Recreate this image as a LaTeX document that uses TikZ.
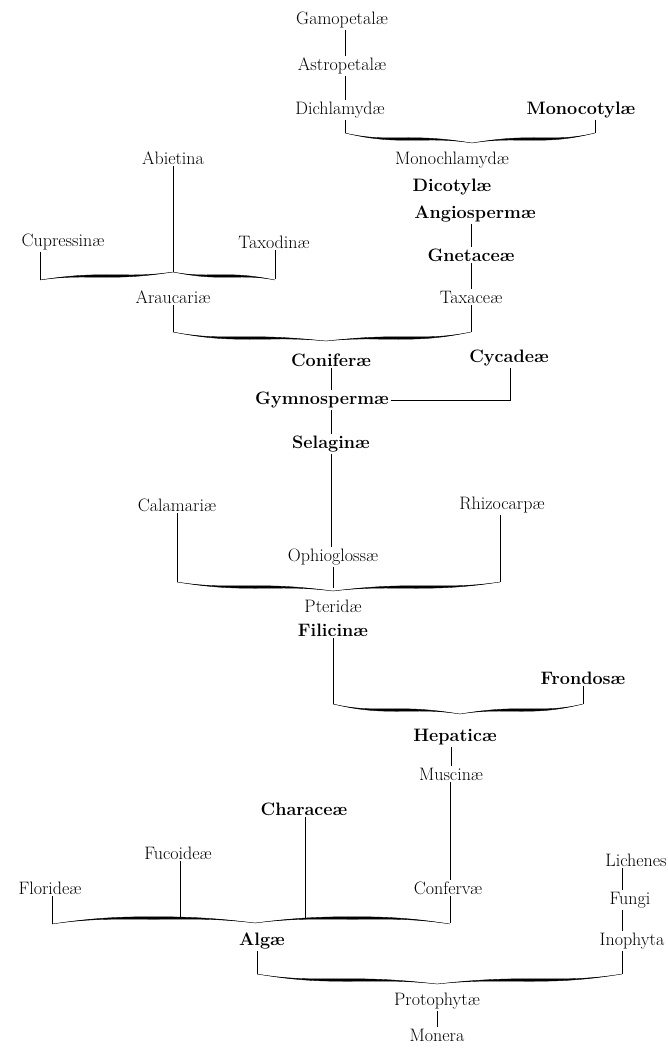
\documentclass[tikz,border=0pt]{standalone}
\usepackage{fontspec}
\setmainfont{Latin Modern Roman}
\newcommand\mybt{1.25}
\newcommand\mybrhalf[5]{%
 \pgfmathsetmacro\myhc{(#1+#3)/2}%
 \pgfmathsetmacro\mypa{#1+0.4*(\myhc-#1)}%
 \pgfmathsetmacro\mypb{\myhc-0.35*(\myhc-#1)}%
 \pgfmathsetmacro\mypc{\myhc+0.35*(#3-\myhc)}%
 \pgfmathsetmacro\mypd{#3-0.4*(#3-\myhc)}%
 \filldraw[line width=0.35pt] (#1,#2) .. controls (\mypa,#5) and (\mypb,#5-\mybt) .. (\myhc,#5-\mybt) .. controls (\mypc,#5-\mybt) and (\mypd,#5) .. (#3,#4) .. controls (\mypd,#5) and (\mypc,#5+\mybt) .. (\myhc,#5+\mybt) .. controls (\mypb,#5+\mybt) and (\mypa,#5) .. (#1,#2) -- cycle;}
\newcommand\mybrace[6]{\mybrhalf{#1}{#4}{#2}{#6}{#5}\mybrhalf{#2}{#6}{#3}{#4}{#5}}
\tikzset{
 nm/.style={inner sep=1.5pt, font=\fontsize{18}{21}\selectfont},
 bd/.style={inner sep=1.5pt, font=\fontsize{18}{21}\selectfont\bfseries},
 ln/.style={line width=0.6pt},
}
\begin{document}
\begin{tikzpicture}[x=1pt,y=-1pt]
\fill[white] (0,0) rectangle (668,1048);
\useasboundingbox (0,0) rectangle (668,1048);
% top
\node[nm] (gam) at (342,20) {Gamopetalæ};
\node[nm] (astro) at (342,66) {Astropetalæ};
\node[nm] (dichl) at (340,110) {Dichlamydæ};
\node[bd] (monoc) at (581,110) {Monocotylæ};
\coordinate (a1) at (345,133); \coordinate (a2) at (595,133);
\draw[ln] (gam.south -| a1) -- (astro.north -| a1);
\draw[ln] (astro.south -| a1) -- (dichl.north -| a1);
\draw[ln] (dichl.south -| a1) -- (a1);
\draw[ln] (monoc.south -| a2) -- (a2);
\mybrace{345}{472}{595}{133}{139}{143}
\node[nm] (monochl) at (452,160) {Monochlamydæ};
\node[bd] (dicot) at (452,187) {Dicotylæ};
\node[bd] (angio) at (475,214) {Angiospermæ};
\node[bd] (gnet) at (471,255) {Gnetaceæ};
\node[nm] (taxac) at (471,297) {Taxaceæ};
\draw[ln] (angio.south -| gnet.north) -- (gnet.north);
\draw[ln] (gnet.south) -- (taxac.north);
\coordinate (c2) at (471,332);
\draw[ln] (taxac.south) -- (c2);
% conifers
\node[nm] (abiet) at (173,158) {Abietina};
\node[nm] (cupr) at (63,242) {Cupressinæ};
\node[nm] (taxod) at (274,242) {Taxodinæ};
\coordinate (b1) at (40,280); \coordinate (bt) at (173,272); \coordinate (b2) at (275,279);
\draw[ln] (abiet.south) -- (bt);
\draw[ln] (cupr.south -| b1) -- (b1);
\draw[ln] (taxod.south -| b2) -- (b2);
\mybrace{40}{173}{275}{280}{276}{272}
\node[nm] (arau) at (173,297) {Araucariæ};
\coordinate (c1) at (173,332);
\draw[ln] (arau.south) -- (c1);
\mybrace{173}{326}{471}{332}{338}{341}
\node[bd] (conif) at (331,360) {Coniferæ};
\node[bd] (cycad) at (509,358) {Cycadeæ};
\node[bd] (gymno) at (322,400) {Gymnospermæ};
\coordinate (gc) at (510,400);
\draw[ln] (conif.south) -- (gymno.north -| conif.south);
\draw[ln] (gymno.east) -| (cycad.south -| gc);
\node[bd] (selag) at (331,444) {Selaginæ};
\draw[ln] (gymno.south -| selag.north) -- (selag.north);
% ferns
\node[nm] (calam) at (177,505) {Calamariæ};
\node[nm] (rhizo) at (502,505) {Rhizocarpæ};
\node[nm] (ophio) at (333,557) {Ophioglossæ};
\draw[ln] (selag.south) -- (ophio.north -| selag.south);
\coordinate (d1) at (177,582); \coordinate (dm) at (333,588); \coordinate (d2) at (500,582);
\draw[ln] (calam.south -| d1) -- (d1);
\draw[ln] (rhizo.south -| d2) -- (d2);
\draw[ln] (ophio.south -| dm) -- (dm);
\mybrace{177}{333}{500}{582}{587}{591}
\node[nm] (pter) at (333,606) {Pteridæ};
\node[bd] (filic) at (333,630) {Filicinæ};
\node[bd] (frond) at (583,678) {Frondosæ};
\coordinate (e1) at (333,704); \coordinate (e2) at (583,704);
\draw[ln] (filic.south) -- (e1);
\draw[ln] (frond.south -| e2) -- (e2);
\mybrace{333}{460}{583}{704}{710}{714}
\node[bd] (hepat) at (455,737) {Hepaticæ};
\node[nm] (musc) at (451,774) {Muscinæ};
\draw[ln] (hepat.south -| musc.north) -- (musc.north);
% algae
\node[bd] (chara) at (304,809) {Characeæ};
\node[nm] (fucoi) at (178,853) {Fucoideæ};
\node[nm] (flori) at (50,888) {Florideæ};
\node[nm] (confe) at (448,888) {Confervæ};
\coordinate (f1) at (52,924); \coordinate (f2) at (450,923); \coordinate (fa) at (180,919); \coordinate (fb) at (305,919);
\draw[ln] (musc.south -| f2) -- (confe.north -| f2);
\draw[ln] (flori.south -| f1) -- (f1);
\draw[ln] (fucoi.south -| fa) -- (fa);
\draw[ln] (chara.south -| fb) -- (fb);
\draw[ln] (confe.south -| f2) -- (f2);
\mybrace{52}{255}{450}{924}{918}{923}
\node[bd] (algae) at (262,941) {Algæ};
\node[nm] (lich) at (636,860) {Lichenes};
\node[nm] (fungi) at (630,900) {Fungi};
\node[nm] (inoph) at (632,941) {Inophyta};
\coordinate (g1) at (257,974); \coordinate (g2) at (622,974);
\draw[ln] (lich.south -| g2) -- (fungi.north -| g2);
\draw[ln] (fungi.south -| g2) -- (inoph.north -| g2);
\draw[ln] (algae.south -| g1) -- (g1);
\draw[ln] (inoph.south -| g2) -- (g2);
\mybrace{257}{437}{622}{974}{980}{984}
\node[nm] (proto) at (437,1001) {Protophytæ};
\node[nm] (moner) at (437,1035) {Monera};
\draw[ln] (proto.south) -- (moner.north);
\end{tikzpicture}
\end{document}
